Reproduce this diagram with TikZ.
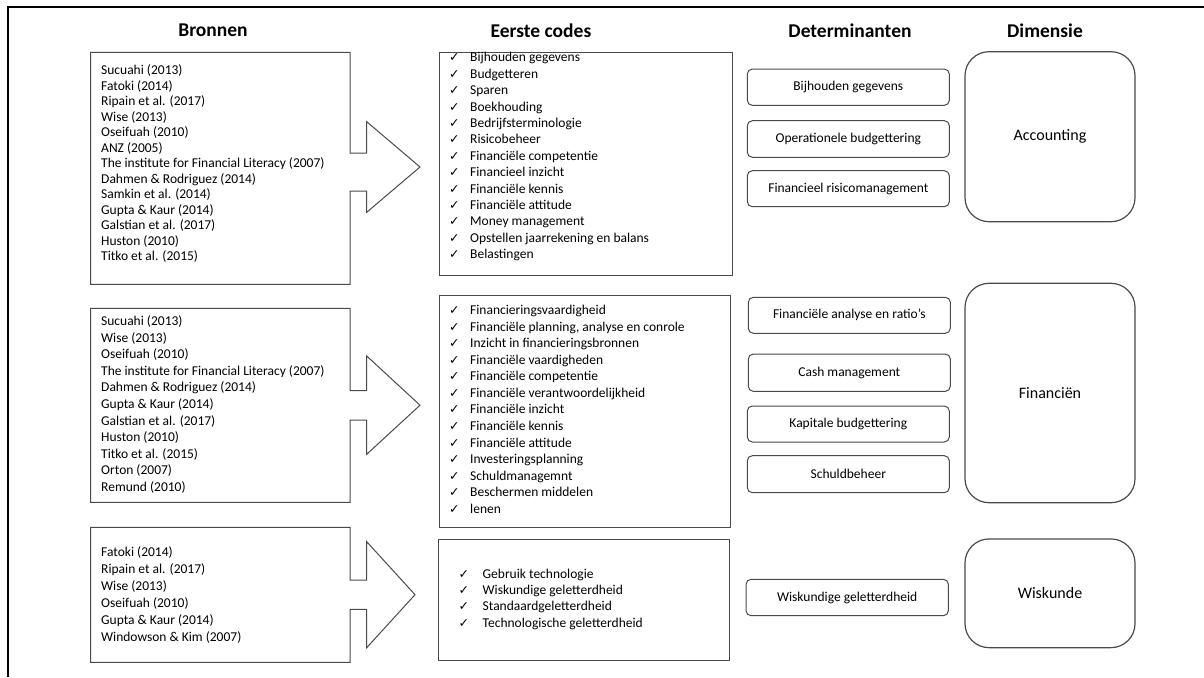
\documentclass[tikz,border=0pt]{standalone}
\usepackage{fontspec}
\setmainfont{Carlito}
\newfontfamily\dejavu{DejaVu Sans}
\newcommand{\chkm}{\makebox[21pt][l]{\dejavu\fontsize{12.5}{12.5}\selectfont ✓}}
\newcommand{\chkw}[1]{\makebox[#1][l]{\dejavu\fontsize{12.5}{12.5}\selectfont ✓}}
\definecolor{boxgray}{HTML}{4A4A4A}
\tikzset{
  hdr/.style={font=\fontsize{19.5}{22}\selectfont\bfseries, inner sep=0pt},
  srcshape/.style={draw=boxgray, line width=1pt, line join=miter},
  listtxt/.style={align=left, inner sep=0pt, anchor=west},
  codebox/.style={draw=boxgray, line width=1pt},
  detbox/.style={draw=boxgray, line width=1pt, rounded corners=5pt, font=\fontsize{13.5}{15}\selectfont},
  dimbox/.style={draw=boxgray, line width=1.2pt, rounded corners=24pt, font=\fontsize{16}{18}\selectfont},
}
\begin{document}
\begin{tikzpicture}[x=1pt, y=-1pt]
\useasboundingbox (0,0) rectangle (1204,677);
% outer border (top and left only)
\draw[line width=1.4pt, black] (8,677) -- (8,7) -- (1204,7);

% headers
\node[hdr] (hB) at (213,30.5) {Bronnen};
\node[hdr] (hE) at (541,30.5) {Eerste codes};
\node[hdr] (hD) at (850,30.5) {Determinanten};
\node[hdr] (hM) at (1045,30.5) {Dimensie};

% source callouts
\draw[srcshape] (90.7,52.3) -- (350,52.3) -- (350,153) -- (366.7,153) -- (366.7,121.7) -- (420,167)
  -- (366.7,212.3) -- (366.7,191) -- (350,191) -- (350,284.3) -- (90.7,284.3) -- cycle;
\draw[srcshape] (90.7,308.3) -- (350,308.3) -- (350,390.7) -- (366.7,390.7) -- (366.7,356) -- (420,405.2)
  -- (366.7,454.3) -- (366.7,420) -- (350,420) -- (350,502.3) -- (90.7,502.3) -- cycle;
\draw[srcshape] (90.7,527.3) -- (350,527.3) -- (350,580) -- (366.7,580) -- (366.7,541.7) -- (415,594.7)
  -- (366.7,647.7) -- (366.7,609.3) -- (350,609.3) -- (350,662.3) -- (90.7,662.3) -- cycle;

\node[listtxt, font=\fontsize{13.5}{15.5}\selectfont] (s1) at (101,163.5) {Sucuahi (2013)\\Fatoki (2014)\\Ripain et al. (2017)\\Wise (2013)\\Oseifuah (2010)\\ANZ (2005)\\The institute for Financial Literacy (2007)\\Dahmen \& Rodriguez (2014)\\Samkin et al. (2014)\\Gupta \& Kaur (2014)\\Galstian et al. (2017)\\Huston (2010)\\Titko et al. (2015)};
\node[listtxt, font=\fontsize{13.5}{16.56}\selectfont] (s2) at (101,404.5) {Sucuahi (2013)\\Wise (2013)\\Oseifuah (2010)\\The institute for Financial Literacy (2007)\\Dahmen \& Rodriguez (2014)\\Gupta \& Kaur (2014)\\Galstian et al. (2017)\\Huston (2010)\\Titko et al. (2015)\\Orton (2007)\\Remund (2010)};
\node[listtxt, font=\fontsize{13.5}{17}\selectfont] (s3) at (101,594.8) {Fatoki (2014)\\Ripain et al. (2017)\\Wise (2013)\\Oseifuah (2010)\\Gupta \& Kaur (2014)\\Windowson \& Kim (2007)};

% code boxes
\draw[codebox] (439.3,52.7) rectangle (732.7,275.7);
\draw[codebox] (439.3,295.7) rectangle (730.7,527.3);
\draw[codebox] (438.7,539) rectangle (729.3,660);

\node[listtxt, font=\fontsize{13.5}{16.4}\selectfont] (c1) at (449,156.7) {\chkm Bijhouden gegevens\\\chkm Budgetteren\\\chkm Sparen\\\chkm Boekhouding\\\chkm Bedrijfsterminologie\\\chkm Risicobeheer\\\chkm Financiële competentie\\\chkm Financieel inzicht\\\chkm Financiële kennis\\\chkm Financiële attitude\\\chkm Money management\\\chkm Opstellen jaarrekening en balans\\\chkm Belastingen};
\node[listtxt, font=\fontsize{13.5}{16.58}\selectfont] (c2) at (449,409.3) {\chkm Financieringsvaardigheid\\\chkm Financiële planning, analyse en conrole\\\chkm Inzicht in financieringsbronnen\\\chkm Financiële vaardigheden\\\chkm Financiële competentie\\\chkm Financiële verantwoordelijkheid\\\chkm Financiële inzicht\\\chkm Financiële kennis\\\chkm Financiële attitude\\\chkm Investeringsplanning\\\chkm Schuldmanagemnt\\\chkm Beschermen middelen\\\chkm lenen};
\node[listtxt, font=\fontsize{13.5}{16.3}\selectfont] (c3) at (458.5,599.3) {\chkw{24pt}Gebruik technologie\\\chkw{24pt}Wiskundige geletterdheid\\\chkw{24pt}Standaardgeletterdheid\\\chkw{24pt}Technologische geletterdheid};

% determinants
\node[detbox, minimum width=202pt, minimum height=36.3pt] (d1) at (848.3,87.2) {Bijhouden gegevens};
\node[detbox, minimum width=202pt, minimum height=36.6pt] (d2) at (848.3,139) {Operationele budgettering};
\node[detbox, minimum width=202pt, minimum height=36pt] (d3) at (848.3,188.7) {Financieel risicomanagement};
\node[detbox, minimum width=202pt, minimum height=36pt] (d4) at (849.3,315.3) {Financiële analyse en ratio’s};
\node[detbox, minimum width=202pt, minimum height=37.3pt] (d5) at (849.3,372.7) {Cash management};
\node[detbox, minimum width=202pt, minimum height=36pt] (d6) at (848.3,424) {Kapitale budgettering};
\node[detbox, minimum width=202pt, minimum height=37pt] (d7) at (848.3,474.2) {Schuldbeheer};
\node[detbox, minimum width=202.3pt, minimum height=36.4pt] (d8) at (847.2,597.5) {Wiskundige geletterdheid};

% dimensions
\node[dimbox, minimum width=170pt, minimum height=170pt] (m1) at (1050,136.7) {Accounting};
\node[dimbox, minimum width=170pt, minimum height=219.4pt] (m2) at (1050,393) {Financiën};
\node[dimbox, minimum width=170pt, minimum height=108.7pt] (m3) at (1050,593.3) {Wiskunde};
\end{tikzpicture}
\end{document}
